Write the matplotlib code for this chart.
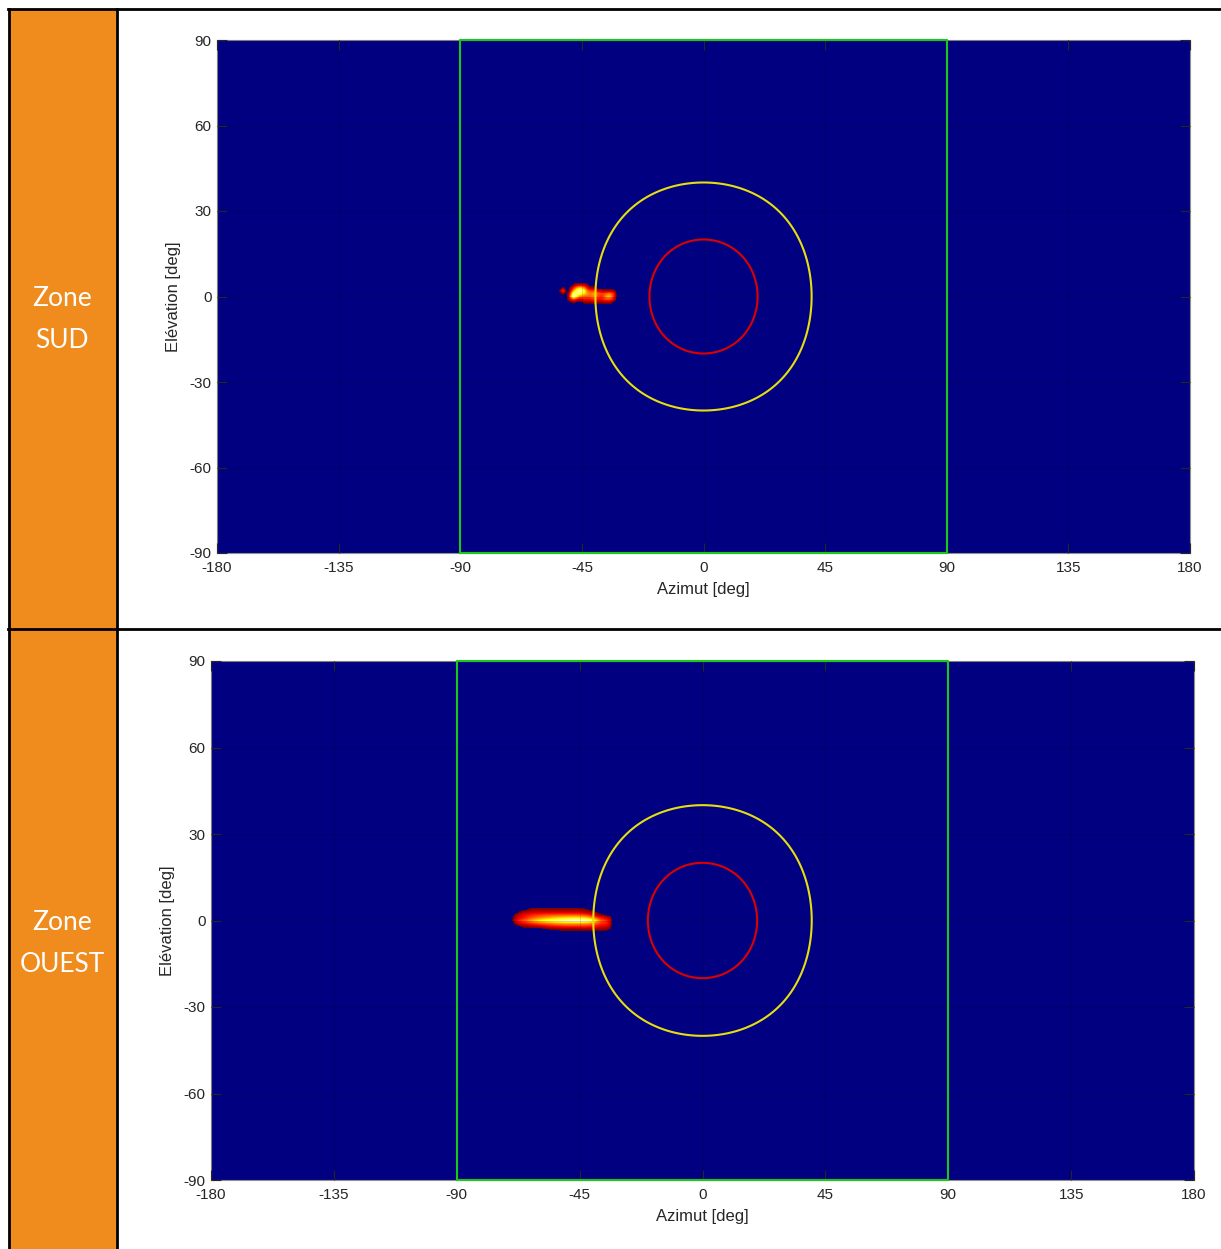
import numpy as np
import matplotlib
matplotlib.use('Agg')
import matplotlib.pyplot as plt
from matplotlib.colors import ListedColormap, Normalize
from matplotlib.patches import Rectangle, Polygon
from matplotlib.lines import Line2D

plt.rcParams['axes.unicode_minus'] = False

# ===============================
# Données
# ===============================
zones = ['Zone\nSUD', 'Zone\nOUEST']

az_ticks = [-180, -135, -90, -45, 0, 45, 90, 135, 180]
el_ticks = [-90, -60, -30, 0, 30, 60, 90]

# cercles autour de l'axe (rayon en deg) et couleurs
radii = [20, 40]
radii_colors = ['#DD0000', '#E6DE10']
# cadre vert (champ +/-90 deg en azimut)
box_az = [-90, -90, 90, 90, -90]
box_el = [-90, 90, 90, -90, -90]

# Zone SUD : tache autour de az -54..-32, el 5..-3 (pas 1 deg)
sud_az0, sud_el_top = -54, 5
sud_patch = [
    [0] * 23,
    [0, 0, 0, 0, 0, 0, .1, .2, .25, .25, .2, .1, 0, 0, 0, 0, 0, 0, 0, 0, 0, 0, 0],
    [0, 0, .1, 0, 0, .15, .35, .55, .65, .65, .5, .3, .15, .12, .1, 0, 0, 0, 0, 0, 0, 0, 0],
    [0, .1, .4, .1, 0, .3, .6, .8, .9, .9, .75, .5, .4, .4, .35, .25, .2, .15, .15, .15, .15, .1, 0],
    [0, 0, .1, 0, .1, .5, .85, .85, .8, .75, .65, .55, .5, .55, .55, .45, .4, .4, .45, .5, .45, .3, 0],
    [0, 0, 0, 0, .15, .6, .97, .75, .55, .5, .45, .45, .45, .5, .5, .4, .35, .4, .55, .6, .5, .3, 0],
    [0, 0, 0, 0, .1, .3, .4, .3, .2, .25, .3, .3, .3, .35, .35, .3, .3, .35, .4, .4, .35, .2, 0],
    [0, 0, 0, 0, 0, .05, .1, .05, 0, .05, .1, .1, .1, .15, .15, .1, .1, .15, .15, .15, .1, 0, 0],
    [0] * 23,
]

# Zone OUEST : tache allongee autour de az -70..-33, el 5..-4
ouest_az0, ouest_el_top = -70, 5
ouest_patch = [
    [0] * 38,
    [0, 0, 0, 0, 0, 0, .05, .08, .1, .1, .1, .1, .1, .1, .1, .1, .1, .1, .1, .1,
     .1, .1, .1, .1, .1, .1, .08, .06, .05, 0, 0, 0, 0, 0, 0, 0, 0, 0],
    [0, 0, 0, .06, .1, .14, .16, .18, .2, .2, .2, .2, .2, .2, .2, .2, .2, .2, .2, .2,
     .2, .2, .2, .2, .2, .2, .18, .16, .14, .12, .08, .05, 0, 0, 0, 0, 0, 0],
    [0, .05, .12, .2, .24, .27, .3, .32, .34, .36, .37, .38, .39, .4, .4, .41, .41, .42, .42, .42,
     .42, .42, .42, .42, .42, .42, .4, .38, .35, .3, .25, .18, .12, .08, .05, 0, 0, 0],
    [0, .1, .2, .26, .3, .34, .38, .42, .45, .48, .5, .52, .54, .56, .58, .6, .62, .63, .64, .65,
     .66, .67, .68, .68, .68, .67, .66, .65, .62, .56, .5, .42, .35, .3, .26, .2, .14, 0],
    [0, .15, .28, .35, .4, .45, .5, .55, .6, .64, .68, .72, .75, .78, .8, .83, .86, .88, .9, .92,
     .94, .95, .96, .97, .98, .98, .97, .96, .92, .88, .8, .68, .55, .45, .4, .35, .25, 0],
    [0, .05, .16, .22, .26, .29, .32, .35, .38, .4, .43, .45, .47, .49, .5, .52, .54, .55, .56, .57,
     .58, .58, .58, .58, .58, .58, .57, .56, .55, .52, .5, .45, .4, .36, .34, .32, .22, 0],
    [0, 0, 0, .05, .08, .1, .12, .14, .16, .18, .2, .22, .24, .26, .28, .3, .31, .32, .33, .34,
     .35, .35, .35, .35, .35, .35, .35, .35, .34, .33, .32, .3, .28, .26, .25, .22, .15, 0],
    [0, 0, 0, 0, 0, 0, 0, 0, 0, 0, 0, 0, 0, .05, .06, .07, .08, .08, .1, .1,
     .1, .1, .1, .1, .1, .12, .12, .12, .12, .12, .12, .12, .12, .12, .1, .1, .05, 0],
    [0] * 38,
]

patches_list = [(sud_patch, sud_az0, sud_el_top), (ouest_patch, ouest_az0, ouest_el_top)]

# ===============================
# Mise en page (pixels de la figure)
# ===============================
W, H = 1221, 1249
fig = plt.figure(figsize=(W / 100, H / 100), dpi=100)


def fx(px):
    return px / W


def fy(py):
    return 1 - py / H


orange = '#F08C1E'
fig.add_artist(Rectangle((fx(9), 0), fx(117) - fx(9), fy(9), transform=fig.transFigure,
                         facecolor=orange, edgecolor='none', zorder=0))
for (x0, y0, x1, y1) in [(8, 9, W, 9), (8, 629, W, 629), (9, 9, 9, H), (117, 9, 117, H)]:
    fig.add_artist(Line2D([fx(x0), fx(x1)], [fy(y0), fy(y1)], transform=fig.transFigure,
                          color='black', lw=2, zorder=5))

# rectangles des axes : (gauche, haut, droite, bas) en pixels
axes_px = [(217, 40, 1190, 553), (211, 661, 1194, 1180)]
text_y = [319, 943]

# carte des intensites (pas 1 deg)
az = np.arange(-180, 181)
el = np.arange(-90, 91)

# colormap "hot" tronquee, fond bleu marine sous le seuil
hot = plt.get_cmap('hot')
cmap = ListedColormap(hot(np.linspace(0.15, 1.0, 256)))
cmap.set_under('#000080')

tick_col = '#262626'
tick_font = 'Liberation Sans'

for k in range(2):
    l, t, r, b = axes_px[k]
    ax = fig.add_axes([fx(l), fy(b), fx(r) - fx(l), (b - t) / H])

    patch, az0, el_top = patches_list[k]
    Z = np.zeros((len(el), len(az)))
    patch = np.array(patch, dtype=float)
    i0 = (el_top - (patch.shape[0] - 1)) + 90
    j0 = az0 + 180
    Z[i0:i0 + patch.shape[0], j0:j0 + patch.shape[1]] = np.flipud(patch)

    ax.imshow(Z, origin='lower', extent=[-180.5, 180.5, -90.5, 90.5], aspect='auto',
              cmap=cmap, norm=Normalize(vmin=0.05, vmax=1.0),
              interpolation='bilinear', interpolation_stage='data', zorder=1)

    # cercles (cone de demi-angle r autour de l'axe)
    for rad, col in zip(radii, radii_colors):
        e = rad * np.sin(np.linspace(-np.pi / 2, np.pi / 2, 600))
        c = np.clip(np.cos(np.radians(rad)) / np.cos(np.radians(e)), -1, 1)
        a = np.degrees(np.arccos(c))
        pts = np.column_stack([np.concatenate([a, -a[::-1][1:-1]]),
                               np.concatenate([e, e[::-1][1:-1]])])
        ax.add_patch(Polygon(pts, closed=True, fill=False, edgecolor=col, lw=1.5, zorder=3))

    ax.plot(box_az, box_el, color='#19C819', lw=1.5, clip_on=False, zorder=4)

    ax.set_xlim(-180, 180)
    ax.set_ylim(-90, 90)
    ax.set_xticks(az_ticks)
    ax.set_yticks(el_ticks)
    ax.grid(True, color='black', alpha=0.15, lw=0.6, zorder=2)
    ax.set_axisbelow(False)
    ax.tick_params(direction='in', length=7, width=0.8, color=tick_col,
                   labelcolor=tick_col, labelsize=11, top=True, right=True)
    ax.tick_params(axis='x', pad=6)
    ax.tick_params(axis='y', pad=4)
    for lab in ax.get_xticklabels() + ax.get_yticklabels():
        lab.set_fontfamily(tick_font)
    for sp in ax.spines.values():
        sp.set_color('#909090')
        sp.set_linewidth(0.8)
    ax.set_xlabel('Azimut [deg]', fontsize=12, color=tick_col, family=tick_font, labelpad=5)
    ax.set_ylabel('Elévation [deg]', fontsize=12, color=tick_col, family=tick_font, labelpad=6)

    fig.text(fx(62), fy(text_y[k]), zones[k], ha='center', va='center', color='white',
             fontsize=19, family='Lato', linespacing=1.85)

fig.savefig('out.png', dpi=100)
